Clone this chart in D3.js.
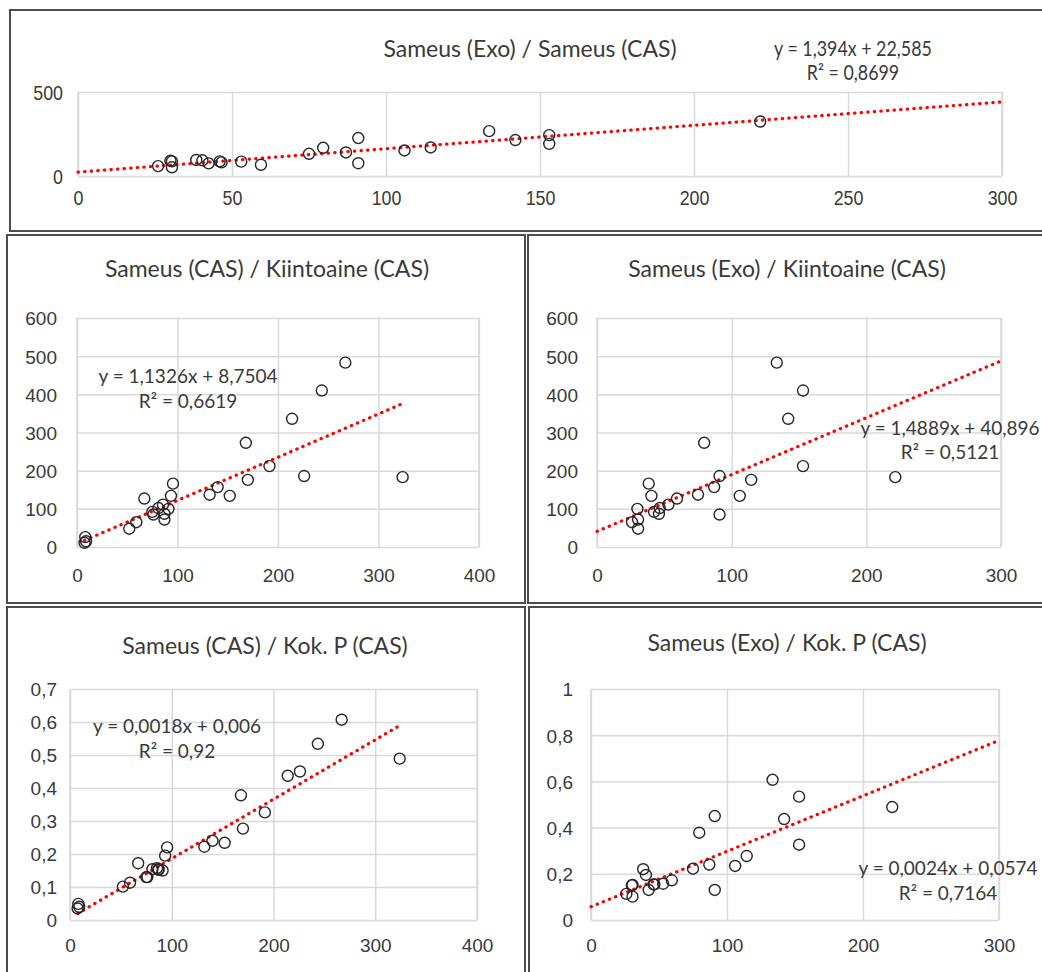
<!DOCTYPE html>
<html>
<head>
<meta charset="utf-8">
<title>Sameus – vertailukuvaajat</title>
<style>
  body { margin: 0; background: #fff; }
  svg { font-family: Lato, "Open Sans", sans-serif; display: block; }
  .grid line { stroke: #d9d9d9; stroke-width: 1.5px; }
  .grid .domain { display: none; }
  .tick text { fill: #3a3a3a; }
  .dot { fill: none; stroke: #262626; stroke-width: 1.4px; }
  .trend { fill: none; stroke: #ff0000; stroke-width: 3.2px; stroke-linecap: round; stroke-dasharray: 0.4 6.2; }
  .frame { fill: #fff; stroke: #4d4d4d; stroke-width: 2px; }
  .title, .eq { fill: #3a3a3a; }
</style>
</head>
<body>
<svg width="1042" height="972"></svg>
<script src="https://d3js.org/d3.v7.min.js"></script>
<script>
// one entry per sample (null = no Exo reading)
const sameusCAS  = [8.2, 7.5, 9, 52, 59, 67, 75, 76, 81, 85.5, 87, 87, 91, 93.5, 95.5, 132, 140, 152, 168, 170, 191.5, 214, 226, 243.6, 267, 324];
const sameusExo  = [null, null, null, 30.5, 26, 59.4, 42.4, 91, 46.6, 53, 46, 30.5, 30, 40.4, 38.4, 75, 87, 106, 79.6, 114.5, 153, 142, 91, 153, 133.5, 221.5];
const kiintoaine = [26, 11, 15, 48, 65, 127, 92, 85, 102, 111, 87, 72, 100, 134, 166, 137, 157, 134, 273, 176, 212, 336, 186, 410, 483, 183];
const kokP       = [0.049, 0.035, 0.04, 0.101, 0.113, 0.172, 0.13, 0.13, 0.154, 0.157, 0.154, 0.152, 0.15, 0.195, 0.22, 0.222, 0.24, 0.234, 0.378, 0.277, 0.326, 0.437, 0.45, 0.534, 0.607, 0.489];

// trendlines as printed on the charts
const titles     = ["Sameus (Exo) / Sameus (CAS)", "Sameus (CAS) / Kiintoaine (CAS)", "Sameus (Exo) / Kiintoaine (CAS)", "Sameus (CAS) / Kok. P (CAS)", "Sameus (Exo) / Kok. P (CAS)"];
const slopes     = [1.394, 1.1326, 1.4889, 0.0018, 0.0024];
const intercepts = [22.585, 8.7504, 40.896, 0.006, 0.0574];
const eqLabels   = ["y = 1,394x + 22,585", "y = 1,1326x + 8,7504", "y = 1,4889x + 40,896", "y = 0,0018x + 0,006", "y = 0,0024x + 0,0574"];
const r2Labels   = ["R² = 0,8699", "R² = 0,6619", "R² = 0,5121", "R² = 0,92", "R² = 0,7164"];

const fi = d3.formatLocale({ decimal: ",", thousands: " ", grouping: [3], currency: ["", " €"] });
const tickFmt = fi.format(".2~f");

const svg = d3.select("svg");

const panels = [
  { xs: sameusExo, ys: sameusCAS, frame: [10, 10, 1050, 221], plot: [78, 92, 1002, 176],
    xDom: [0, 300], yDom: [0, 500], xTicks: d3.range(0, 301, 50), yTicks: [0, 500], trendX: [0, 300],
    title: [530, 57], eq: [853, 56], eqGap: 24, yLab: 15, xLab: 29, fs: 21, ts: 23, sx: 0.85 },
  { xs: sameusCAS, ys: kiintoaine, frame: [7, 235, 518, 368], plot: [77, 318, 479, 547],
    xDom: [0, 400], yDom: [0, 600], xTicks: d3.range(0, 401, 100), yTicks: d3.range(0, 601, 100), trendX: null,
    title: [267, 277], eq: [188, 383], eqGap: 25, yLab: 20, xLab: 35, fs: 19, ts: 23, sx: 1 },
  { xs: sameusExo, ys: kiintoaine, frame: [528, 235, 530, 368], plot: [597, 318, 1001, 547],
    xDom: [0, 300], yDom: [0, 600], xTicks: d3.range(0, 301, 100), yTicks: d3.range(0, 601, 100), trendX: [0, 300],
    title: [787, 277], eq: [950, 435], eqGap: 24, yLab: 19, xLab: 35, fs: 19, ts: 23, sx: 1 },
  { xs: sameusCAS, ys: kokP, frame: [7, 607, 518, 380], plot: [70, 689, 477, 920],
    xDom: [0, 400], yDom: [0, 0.7], xTicks: d3.range(0, 401, 100), yTicks: d3.range(0, 8).map(d => d / 10), trendX: null,
    title: [265, 654], eq: [177, 733], eqGap: 25, yLab: 13, xLab: 32, fs: 19, ts: 23, sx: 1 },
  { xs: sameusExo, ys: kokP, frame: [529, 607, 530, 380], plot: [591, 689, 999, 920],
    xDom: [0, 300], yDom: [0, 1], xTicks: d3.range(0, 301, 100), yTicks: d3.range(0, 6).map(d => d / 5), trendX: [0, 300],
    title: [787, 651], eq: [948, 875], eqGap: 25, yLab: 18, xLab: 32, fs: 19, ts: 23, sx: 1 }
];

panels.forEach((p, i) => {
  const [l, t, r, b] = p.plot;
  const g = svg.append("g");

  g.append("rect").attr("class", "frame")
    .attr("x", p.frame[0]).attr("y", p.frame[1])
    .attr("width", p.frame[2]).attr("height", p.frame[3]);

  const x = d3.scaleLinear().domain(p.xDom).range([l, r]);
  const y = d3.scaleLinear().domain(p.yDom).range([b, t]);

  // gridlines + tick labels
  const gx = g.append("g").attr("class", "grid")
    .attr("transform", `translate(0,${b})`)
    .call(d3.axisBottom(x).tickValues(p.xTicks).tickSize(-(b - t)).tickPadding(0).tickFormat(tickFmt));
  gx.selectAll("text")
    .attr("x", 0).attr("y", p.xLab).attr("dy", null)
    .attr("transform", `scale(${p.sx},1)`)
    .style("font-size", p.fs + "px");

  const gy = g.append("g").attr("class", "grid")
    .attr("transform", `translate(${l},0)`)
    .call(d3.axisLeft(y).tickValues(p.yTicks).tickSize(-(r - l)).tickPadding(0).tickFormat(tickFmt));
  gy.selectAll("text")
    .attr("x", -p.yLab / p.sx).attr("dy", "0.36em")
    .attr("transform", `scale(${p.sx},1)`)
    .style("font-size", p.fs + "px");

  // left and right edges of the plot area
  g.append("g").attr("class", "grid")
    .selectAll("line").data([l, r]).join("line")
    .attr("x1", d => d).attr("x2", d => d).attr("y1", t).attr("y2", b);

  // trendline
  const tx = p.trendX || d3.extent(p.xs.filter(v => v != null));
  g.append("path").attr("class", "trend")
    .attr("d", d3.line()(tx.map(v => [x(v), y(slopes[i] * v + intercepts[i])])));

  // points
  const pts = p.xs.map((v, k) => [v, p.ys[k]]).filter(d => d[0] != null && d[1] != null);
  g.selectAll(".dot").data(pts).join("circle").attr("class", "dot")
    .attr("cx", d => x(d[0])).attr("cy", d => y(d[1])).attr("r", 5.5);

  // title and trend equation
  g.append("text").attr("class", "title")
    .attr("x", p.title[0]).attr("y", p.title[1])
    .attr("text-anchor", "middle").style("font-size", p.ts + "px")
    .text(titles[i]);
  g.append("text").attr("class", "eq")
    .attr("transform", `translate(${p.eq[0]},${p.eq[1]}) scale(${p.sx},1)`)
    .attr("text-anchor", "middle").style("font-size", p.fs + "px")
    .text(eqLabels[i]);
  g.append("text").attr("class", "eq")
    .attr("transform", `translate(${p.eq[0]},${p.eq[1] + p.eqGap}) scale(${p.sx},1)`)
    .attr("text-anchor", "middle").style("font-size", p.fs + "px")
    .text(r2Labels[i]);
});
</script>
</body>
</html>
